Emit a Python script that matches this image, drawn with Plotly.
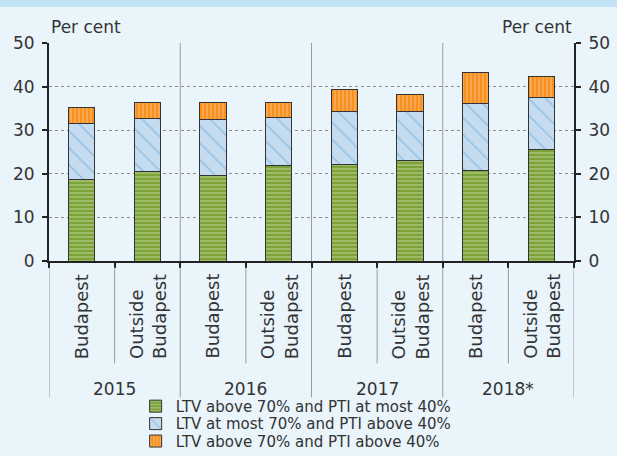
import plotly.graph_objects as go

# (per cent)
years = ['2015', '2016', '2017', '2018*']
places = ['Budapest', 'Outside<br>Budapest']
ltv_high_pti_low = [18.8, 20.5, 19.6, 21.9, 22.2, 23.0, 20.7, 25.6]
ltv_low_pti_high = [12.7, 12.2, 12.8, 11.1, 12.2, 11.4, 15.4, 11.8]
ltv_high_pti_high = [3.7, 3.6, 3.9, 3.3, 4.9, 3.7, 7.2, 5.0]
y_ticks = [0, 10, 20, 30, 40, 50]

names = ['LTV above 70% and PTI at most 40%',
         'LTV at most 70% and PTI above 40%',
         'LTV above 70% and PTI above 40%']

cats = [f'{y} {p}' for y in years for p in places]
totals = [a + b + c for a, b, c in zip(ltv_high_pti_low, ltv_low_pti_high, ltv_high_pti_high)]

FONT = 'DejaVu Sans'
TXT = '#333333'
BG = '#EAF4FB'

styles = [
    dict(shape='-', bgcolor='#7BA33A', fgcolor='#C5DB9C', size=4, solidity=0.45),
    dict(shape='\\', bgcolor='#C4DBF0', fgcolor='#5BA3D9', size=12, solidity=0.12),
    dict(shape='|', bgcolor='#F7901E', fgcolor='#FDC48A', size=4, solidity=0.45),
]
legend_ids = ['legend', 'legend2', 'legend3']

fig = go.Figure()
for name, vals, pat, lg in zip(names, [ltv_high_pti_low, ltv_low_pti_high, ltv_high_pti_high],
                               styles, legend_ids):
    fig.add_trace(go.Bar(
        x=cats, y=vals, name=name, legend=lg,
        marker=dict(color=pat['bgcolor'], pattern=pat,
                    line=dict(color='#333333', width=1)),
    ))

# dummy trace so the right axis gets drawn
fig.add_trace(go.Scatter(x=cats, y=totals, yaxis='y2', mode='markers',
                         marker=dict(opacity=0), showlegend=False, hoverinfo='skip'))

shapes = []
# top band
shapes.append(dict(type='rect', xref='paper', yref='paper', x0=-0.2, x1=1.2,
                   y0=1.165, y1=1.25, fillcolor='#C0E2F4', line=dict(width=0), layer='below'))
n = len(cats)
for i in range(n + 1):
    xb = i - 0.5
    if i % 2 == 0:
        if 0 < i < n:
            shapes.append(dict(type='line', xref='x', yref='y', x0=xb, x1=xb, y0=0, y1=50,
                               line=dict(color='#9A9A9A', width=1), layer='below'))
        shapes.append(dict(type='line', xref='x', yref='paper', x0=xb, x1=xb, y0=-0.03, y1=-0.625,
                           line=dict(color='#9A9A9A', width=1)))
    else:
        shapes.append(dict(type='line', xref='x', yref='paper', x0=xb, x1=xb, y0=-0.03, y1=-0.47,
                           line=dict(color='#9A9A9A', width=1)))

annotations = []
for i, c in enumerate(cats):
    annotations.append(dict(x=c, y=-0.459, xref='x', yref='paper', text=places[i % 2],
                            textangle=-90, showarrow=False, xanchor='center', yanchor='bottom',
                            align='left', font=dict(family=FONT, size=18, color=TXT)))
for j, yr in enumerate(years):
    annotations.append(dict(x=2 * j + 0.5, y=-0.587, xref='x', yref='paper', text=yr,
                            showarrow=False, xanchor='center', yanchor='middle',
                            font=dict(family=FONT, size=17, color=TXT)))
annotations.append(dict(x=0, y=1.073, xref='paper', yref='paper', text='Per cent', showarrow=False,
                        xanchor='left', yanchor='middle', font=dict(family=FONT, size=17, color=TXT)))
annotations.append(dict(x=1, y=1.073, xref='paper', yref='paper', text='Per cent', showarrow=False,
                        xanchor='right', yanchor='middle', font=dict(family=FONT, size=17, color=TXT)))

yax = dict(range=[0, 50], tickvals=y_ticks, ticks='outside', ticklen=5, tickwidth=2,
           tickcolor='#222222', showline=True, linewidth=2, linecolor='#222222',
           showgrid=True, gridcolor='#8C8C8C', griddash='dot', gridwidth=1,
           zeroline=False, ticklabelstandoff=4,
           tickfont=dict(family=FONT, size=17, color=TXT))

leg = dict(orientation='v', x=0.165, xanchor='left', yanchor='middle',
           bgcolor='rgba(0,0,0,0)', font=dict(family=FONT, size=15, color=TXT))

fig.update_layout(
    width=617, height=456,
    margin=dict(l=49, r=43, t=43, b=195, autoexpand=False),
    paper_bgcolor=BG, plot_bgcolor=BG,
    barmode='stack', bargap=0.6,
    font=dict(family=FONT, color=TXT),
    xaxis=dict(type='category', showticklabels=False, ticks='outside', tickson='boundaries',
               ticklen=5, tickwidth=2, tickcolor='#222222', showline=True, linewidth=2,
               linecolor='#222222', showgrid=False, range=[-0.5, n - 0.5]),
    yaxis=yax,
    yaxis2=dict(yax, overlaying='y', side='right', anchor='x', showgrid=False),
    legend=dict(leg, y=-0.667),
    legend2=dict(leg, y=-0.747),
    legend3=dict(leg, y=-0.827),
    shapes=shapes, annotations=annotations,
)

# pin the chart to the window corner so the page never scrolls
js = """
var gd = document.getElementById('{plot_id}');
document.documentElement.style.overflow = 'hidden';
document.body.style.margin = '0';
document.body.style.overflow = 'hidden';
gd.style.position = 'fixed';
gd.style.left = '0px';
gd.style.top = '0px';
"""
fig.write_html('out.html', config={'displayModeBar': False}, post_script=js)
